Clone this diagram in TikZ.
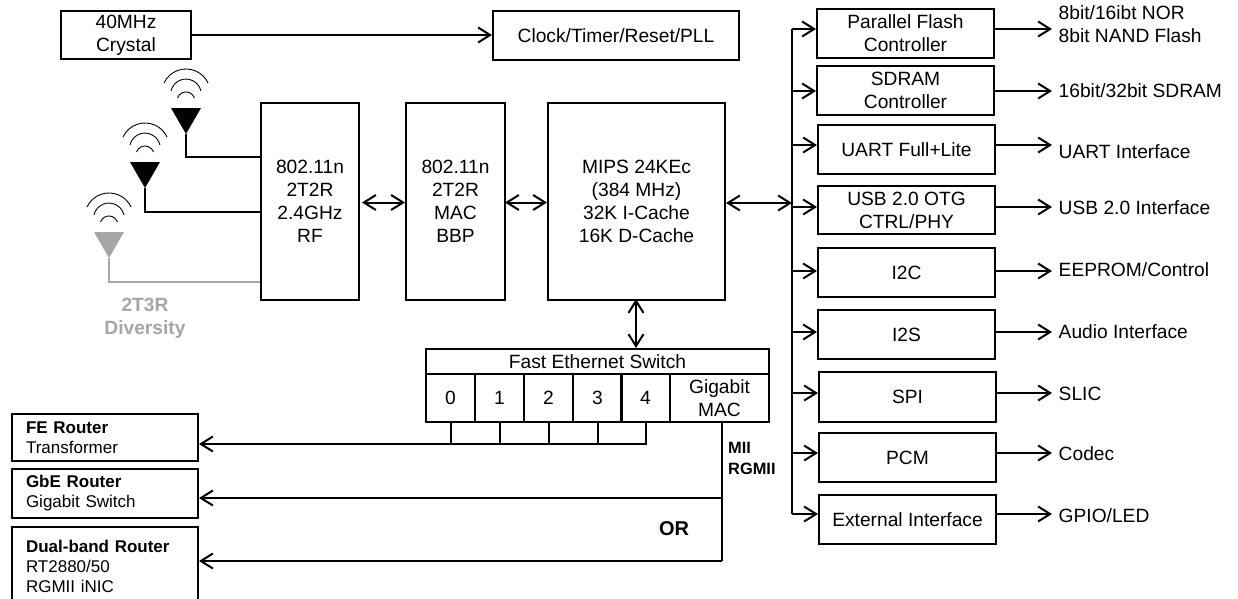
\documentclass[tikz,border=0pt]{standalone}
\usepackage{xcolor}
\usepackage{fontspec}
\setmainfont{Liberation Sans}
\usetikzlibrary{arrows.meta}
\definecolor{divgray}{HTML}{A6A6A6}
\newcommand\ftsize{\fontsize{19.2}{23}\selectfont}
\newcommand\ftleft{\fontsize{17}{20}\selectfont}
\tikzset{
block/.style={draw,line width=2pt,inner sep=0pt,align=center,anchor=north west,font=\ftsize},
leftblock/.style={block,minimum width=186pt,text width=158pt,align=left,font=\ftleft},
sidetext/.style={inner sep=0pt,align=left,anchor=west,font=\ftsize},
conn/.style={line width=2pt},
biarrow/.style={conn,{Straight Barb[length=12pt,width=15pt,line width=2pt]}-{Straight Barb[length=12pt,width=15pt,line width=2pt]}},
onearrow/.style={conn,-{Straight Barb[length=12pt,width=15pt,line width=2pt]}},
}
\begin{document}
\begin{tikzpicture}[x=1pt,y=1pt]
\useasboundingbox (0,0) rectangle (1238,-598);

%top row
\node[block,minimum width=130pt,minimum height=48pt] (crystal) at (60,-10) {40MHz\\Crystal};
\node[block,minimum width=246pt,minimum height=49pt] (clock) at (492,-10) {Clock/Timer/Reset/PLL};
\draw[onearrow] (crystal.east) -- (crystal.east -| clock.west);

%main blocks
\node[block,minimum width=98pt,minimum height=197pt] (rf) at (260,-102) {802.11n\\2T2R\\2.4GHz\\RF};
\node[block,minimum width=99pt,minimum height=197pt] (mac) at (405,-102) {802.11n\\2T2R\\MAC\\BBP};
\node[block,minimum width=177pt,minimum height=197pt] (mips) at (547,-102) {MIPS 24KEc\\(384 MHz)\\32K I-Cache\\16K D-Cache};
\coordinate (rfmac) at (362,-202.5);
\coordinate (macmips) at (505,-202.5);
\draw[biarrow] (rfmac) -- (rfmac -| mac.west);
\draw[biarrow] (macmips) -- (macmips -| mips.west);

%antennas
\foreach \aname/\ax/\ay/\aend/\acol in {a/186/108/157/black,b/145/162/212/black,c/109/232/282/divgray}{%
\coordinate (\aname l) at (\ax-15,-\ay);
\coordinate (\aname r) at (\ax+15,-\ay);
\coordinate (\aname p) at (\ax,-\ay-26);
\coordinate (\aname e) at (\ax,-\aend);
\fill[\acol] (\aname l) -- (\aname r) -- (\aname p) -- cycle;
\draw[conn,\acol] (\aname p) |- (\aname e -| rf.west);
\draw[line width=0.9pt] (\ax-22,-\ay+25) arc[start angle=155,end angle=25,radius=24.3];
\draw[line width=0.9pt] (\ax-15,-\ay+17) arc[start angle=167,end angle=13,radius=15.4];
\draw[line width=0.9pt] (\ax-8.5,-\ay+10) arc[start angle=161,end angle=19,radius=9];
}
\node[inner sep=0pt,align=center,text=divgray,font=\ftsize\bfseries] (div) at (145,-318) {2T3R\\Diversity};

%switch
\node[block,minimum width=343pt,minimum height=25pt] (sw) at (425,-348) {Fast Ethernet Switch};
\foreach \p/\x in {0/425,1/474,2/523,3/572,4/620}{%
\node[block,minimum width=49pt,minimum height=48pt] (p\p) at (\x,-373) {\p};
}
\node[block,minimum width=99pt,minimum height=48pt] (gmac) at (669,-373) {Gigabit\\MAC};
\draw[biarrow] (636,-299) -- (636,-348);

%left side
\node[leftblock,minimum height=47pt] (fe) at (11,-413) {\textbf{FE Router}\\Transformer};
\node[leftblock,minimum height=49pt] (gbe) at (11,-468) {\textbf{GbE Router}\\Gigabit Switch};
\node[leftblock,minimum height=78pt] (dual) at (11,-526) {\textbf{Dual-band Router}\\RT2880/50\\RGMII iNIC};

\coordinate (tap) at (645,-444);
\foreach \p in {0,...,3}{%
\draw[conn] (p\p.south) -- (p\p.south |- tap);
}
\draw[onearrow] (p4.south) |- (tap -| fe.east);
\coordinate (gtap) at (722,-421);
\coordinate (gbeend) at (722,-498);
\coordinate (dualend) at (722,-561);
\draw[conn] (gtap) -- (dualend);
\draw[onearrow] (gbeend) -- (gbeend -| gbe.east);
\draw[onearrow] (dualend) -- (dualend -| dual.east);
\node[sidetext,font=\fontsize{16.4}{21}\selectfont\bfseries] (mii) at (728,-458) {MII\\RGMII};
\node[inner sep=0pt,font=\fontsize{20}{24}\selectfont\bfseries] (orl) at (674,-529) {OR};

%right side
\foreach \n/\x/\y/\h/\yt/\t/\yo/\o in {%
flash/816/8/49/29/{Parallel Flash\\Controller}/24.5/{8bit/16ibt NOR\\8bit NAND Flash},
sdram/816/65/49/91/{SDRAM\\Controller}/91/{16bit/32bit SDRAM},
uart/817/124/49/145/{UART Full+Lite}/152/{UART Interface},
usb/817/185/48/207/{USB 2.0 OTG\\CTRL/PHY}/208/{USB 2.0 Interface},
itc/817/247/49/271/{I2C}/270/{EEPROM/Control},
its/817/309/49/332/{I2S}/332/{Audio Interface},
spi/818/371/50/393/{SPI}/394/{SLIC},
pcm/818/432/49/453/{PCM}/454/{Codec},
ext/818/494/49/514/{External Interface}/516/{GPIO/LED}}{%
\node[block,minimum width=177pt,minimum height=\h pt] (\n) at (\x,-\y) {\t};
\coordinate (b\n) at (792,-\yt);
\draw[onearrow] (b\n) -- (b\n -| \n.west);
\node[sidetext] (o\n) at (1058.5,-\yo) {\o};
\coordinate (e\n) at (1052,-\yt);
\draw[onearrow] (e\n -| \n.east) -- (e\n);
}
\draw[conn] (bflash) -- (bext);
\coordinate (mipsbus) at (726,-203);
\draw[biarrow] (mipsbus) -- (mipsbus -| bflash);

\end{tikzpicture}
\end{document}
